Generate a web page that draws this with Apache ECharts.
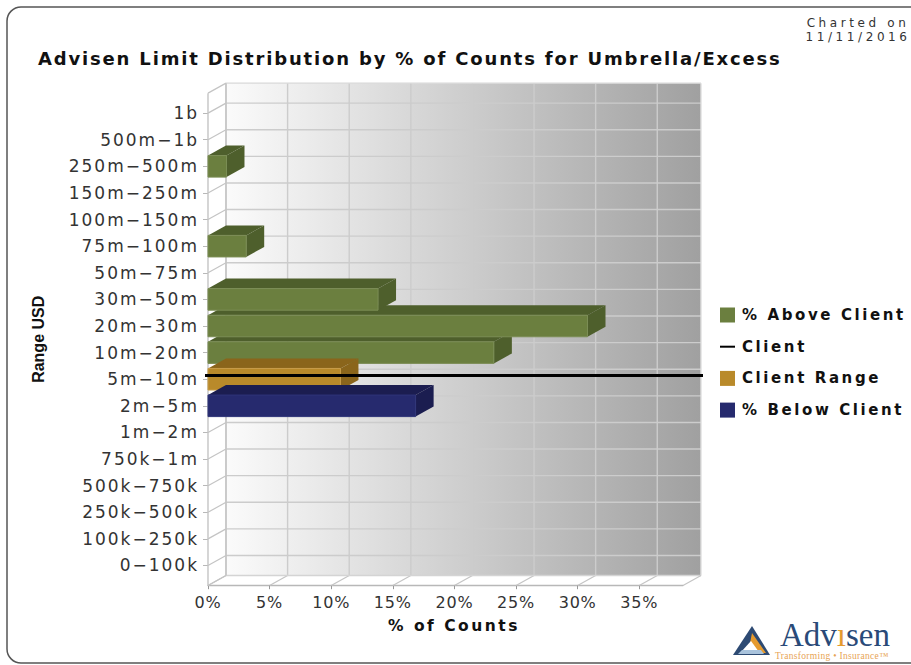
<!DOCTYPE html>
<html><head><meta charset="utf-8">
<style>
html,body{margin:0;padding:0;background:#fff}
#c{width:911px;height:665px}
svg text[style*="18px"]{letter-spacing:1.83px}
svg text[style*="17px"]{letter-spacing:2px}
svg text[style*="16px"]{letter-spacing:.8px}
svg text[style*="15px"]{letter-spacing:2.6px}
svg text[style*="15.5px"]{letter-spacing:2.5px}
svg text[style*="12px"]{letter-spacing:3.6px}
svg text[style*="9.5px"]{letter-spacing:.3px}
svg text[style*="Liberation Sans"]{letter-spacing:0}
</style>
<script src="https://cdn.jsdelivr.net/npm/echarts@6/dist/echarts.min.js"></script>
</head><body><div id="c"></div>
<script>
const categories=['0−100k','100k−250k','250k−500k','500k−750k','750k−1m','1m−2m','2m−5m','5m−10m','10m−20m','20m−30m','30m−50m','50m−75m','75m−100m','100m−150m','150m−250m','250m−500m','500m−1b','1b'];
const aboveClient=[null,null,null,null,null,null,null,null,23.2,30.8,13.8,null,3.1,null,null,1.5,null,null];
const clientRange=[null,null,null,null,null,null,null,10.75,null,null,null,null,null,null,null,null,null,null];
const belowClient=[null,null,null,null,null,null,16.85,null,null,null,null,null,null,null,null,null,null,null];
const clientCategory='5m−10m';
const xTicks=[0,5,10,15,20,25,30,35];
const xMax=38.55;
const titleText='Advisen Limit Distribution by % of Counts for Umbrella/Excess';
const chartedOn='Charted on\n11/11/2016';

const DX=18,DY=-10;
const font='DejaVu Sans';
function rows(arr){return arr.map((v,i)=>[v,i]).filter(d=>d[0]!=null);}
function poly(points,fill,extra){return Object.assign({type:'polygon',shape:{points},style:{fill}},extra||{});}
function barSeries(name,arr,front,dark,edge){
  return {name,type:'custom',coordinateSystem:'cartesian2d',data:rows(arr),itemStyle:{color:front},encode:{x:0,y:1},silent:true,z:3,
    renderItem(params,api){
      const p=api.coord([api.value(0),api.value(1)]),o=api.coord([0,api.value(1)]);
      const h=api.size([0,1])[1]*0.81,t=p[1]-h/2,b=p[1]+h/2,l=o[0],r=p[0];
      return {type:'group',children:[
        poly([[l,t],[l+DX,t+DY],[r+DX,t+DY],[r,t]],dark),
        poly([[r,t],[r+DX,t+DY],[r+DX,b+DY],[r,b]],dark),
        {type:'rect',shape:{x:l,y:t,width:r-l,height:h},style:{fill:front,stroke:edge,lineWidth:1}}
      ]};
    }};
}
const wallSeries={type:'custom',coordinateSystem:'cartesian2d',data:[[0,0]],silent:true,z:1,encode:{x:0,y:1},
  renderItem(params,api){
    const cs=params.coordSys,gc='#cccccc',wc='#c4c4c4';
    const L=cs.x,R=cs.x+cs.width,band=cs.height/categories.length;
    const T=cs.y-band/4,B=cs.y+cs.height+band/4;
    const kids=[];
    kids.push({type:'rect',shape:{x:L+DX,y:T+DY,width:R-L,height:B-T},style:{fill:new echarts.graphic.LinearGradient(0,0,1,0,[{offset:0,color:'#fbfbfb'},{offset:1,color:'#a0a0a0'}])}});
    const line=(x1,y1,x2,y2,c,w)=>kids.push({type:'line',shape:{x1,y1,x2,y2},style:{stroke:c||gc,lineWidth:w||1.4}});
    categories.forEach((c,i)=>{const y=api.coord([0,i])[1];
      line(L+DX,y+DY,R+DX,y+DY);line(L,y,L+DX,y+DY,wc,1.2);});
    xTicks.forEach(v=>{const x=api.coord([v,0])[0];
      line(x+DX,T+DY,x+DX,B+DY);line(x,B,x+DX,B+DY,wc,1.2);});
    line(L+DX,T+DY,R+DX,T+DY,'#d8d8d8');
    line(L+DX,B+DY,R+DX,B+DY,'#d4d4d4');
    line(R+DX,T+DY,R+DX,B+DY,'#dedede');
    line(L+DX,T+DY,L+DX,B+DY,wc);
    line(L,T,L,B,wc);
    line(L,T,L+DX,T+DY,wc,1.2);
    line(L,B,L+DX,B+DY,wc,1.2);
    line(R,B,R+DX,B+DY,wc,1.2);
    return {type:'group',children:kids};
  }};
const clientSeries={name:'Client',type:'custom',coordinateSystem:'cartesian2d',data:[[0,categories.indexOf(clientCategory)]],
  itemStyle:{color:'#000'},encode:{x:0,y:1},silent:true,z:5,
  renderItem(params,api){
    const cs=params.coordSys,y=api.coord([0,api.value(1)])[1]-3.6;
    return {type:'line',shape:{x1:cs.x-3,y1:y,x2:cs.x+cs.width+20,y2:y},style:{stroke:'#000',lineWidth:3}};
  }};
const option={
  animation:false,backgroundColor:'#fff',
  title:{text:titleText,left:33,top:44,textStyle:{fontFamily:font,fontWeight:'bold',fontSize:18,color:'#111'}},
  legend:{orient:'vertical',left:715,top:302.5,itemWidth:15,itemHeight:15,itemGap:16.7,selectedMode:false,
    textStyle:{fontFamily:font,fontWeight:'bold',fontSize:15,color:'#111',padding:[0,0,0,2]},
    data:[{name:'% Above Client',icon:'rect'},{name:'Client',icon:'path://M0 0H15V2H0Z'},{name:'Client Range',icon:'rect'},{name:'% Below Client',icon:'rect'}]},
  grid:{left:208,right:228,top:99.8,bottom:86.2},
  xAxis:{type:'value',min:0,max:xMax,offset:6.4,name:'% of Counts',nameLocation:'middle',nameGap:33,
    nameTextStyle:{fontFamily:font,fontWeight:'bold',fontSize:15.5,color:'#111',padding:[0,0,0,17]},
    splitLine:{show:false},axisLine:{show:true,lineStyle:{color:'#b8b8b8',width:1.4}},
    axisTick:{show:true,length:4,lineStyle:{color:'#999'},customValues:xTicks},
    axisLabel:{margin:9,fontFamily:font,fontSize:16,color:'#333',customValues:xTicks,formatter:'{value}%'}},
  yAxis:{type:'category',data:categories,name:'Range USD',nameLocation:'middle',nameGap:162,
    nameTextStyle:{fontFamily:'Liberation Sans',fontWeight:'bold',fontSize:16,color:'#111'},
    splitLine:{show:false},axisLine:{show:false},
    axisTick:{show:true,length:5,alignWithLabel:true,lineStyle:{color:'#b8b8b8'}},
    axisLabel:{margin:9,interval:0,fontFamily:font,fontSize:17,color:'#333'}},
  series:[wallSeries,
    barSeries('% Above Client',aboveClient,'#6b7f3f','#4e5f2c','#7b8d55'),
    clientSeries,
    barSeries('Client Range',clientRange,'#b98a2a','#8a651b','#c79c48'),
    barSeries('% Below Client',belowClient,'#262a6e','#1b1d50','#2f3479')],
  graphic:[
    {type:'rect',silent:true,z:-1,shape:{x:7,y:7,width:920,height:656,r:14},style:{fill:'none',stroke:'#555',lineWidth:1.5}},
    {type:'text',x:858,y:16,silent:true,style:{text:chartedOn,fontFamily:font,fontSize:12,lineHeight:14,align:'center',verticalAlign:'top',fill:'#333'}},
    {type:'polygon',silent:true,shape:{points:[[752,626],[770,655],[733,655]]},style:{fill:'#2d4a73'}},
    {type:'polygon',silent:true,shape:{points:[[752,633],[766,653],[748,653]]},style:{fill:'#e59a2e'}},
    {type:'polygon',silent:true,shape:{points:[[751,641],[759,652],[741,652]]},style:{fill:'#fff'}},
    {type:'polygon',silent:true,shape:{points:[[738,654],[742,650],[761,650],[764,654]]},style:{fill:'#a9c3dc'}},
    {type:'text',x:780,y:618,silent:true,style:{rich:{a:{fontFamily:'Liberation Serif',fontSize:33,lineHeight:33,fill:'#2a4a78'},b:{fontFamily:'Liberation Serif',fontSize:33,lineHeight:33,fill:'#e59a2e'}},text:'{a|Adv}{b|ı}{a|sen}'}},
    {type:'text',x:775,y:651,silent:true,style:{text:'Transforming • Insurance™',fontFamily:'Liberation Serif',fontSize:9.5,fill:'#e8a455'}}
  ]
};
const chart=echarts.init(document.getElementById('c'),null,{renderer:'svg'});
chart.setOption(option);
</script></body></html>
